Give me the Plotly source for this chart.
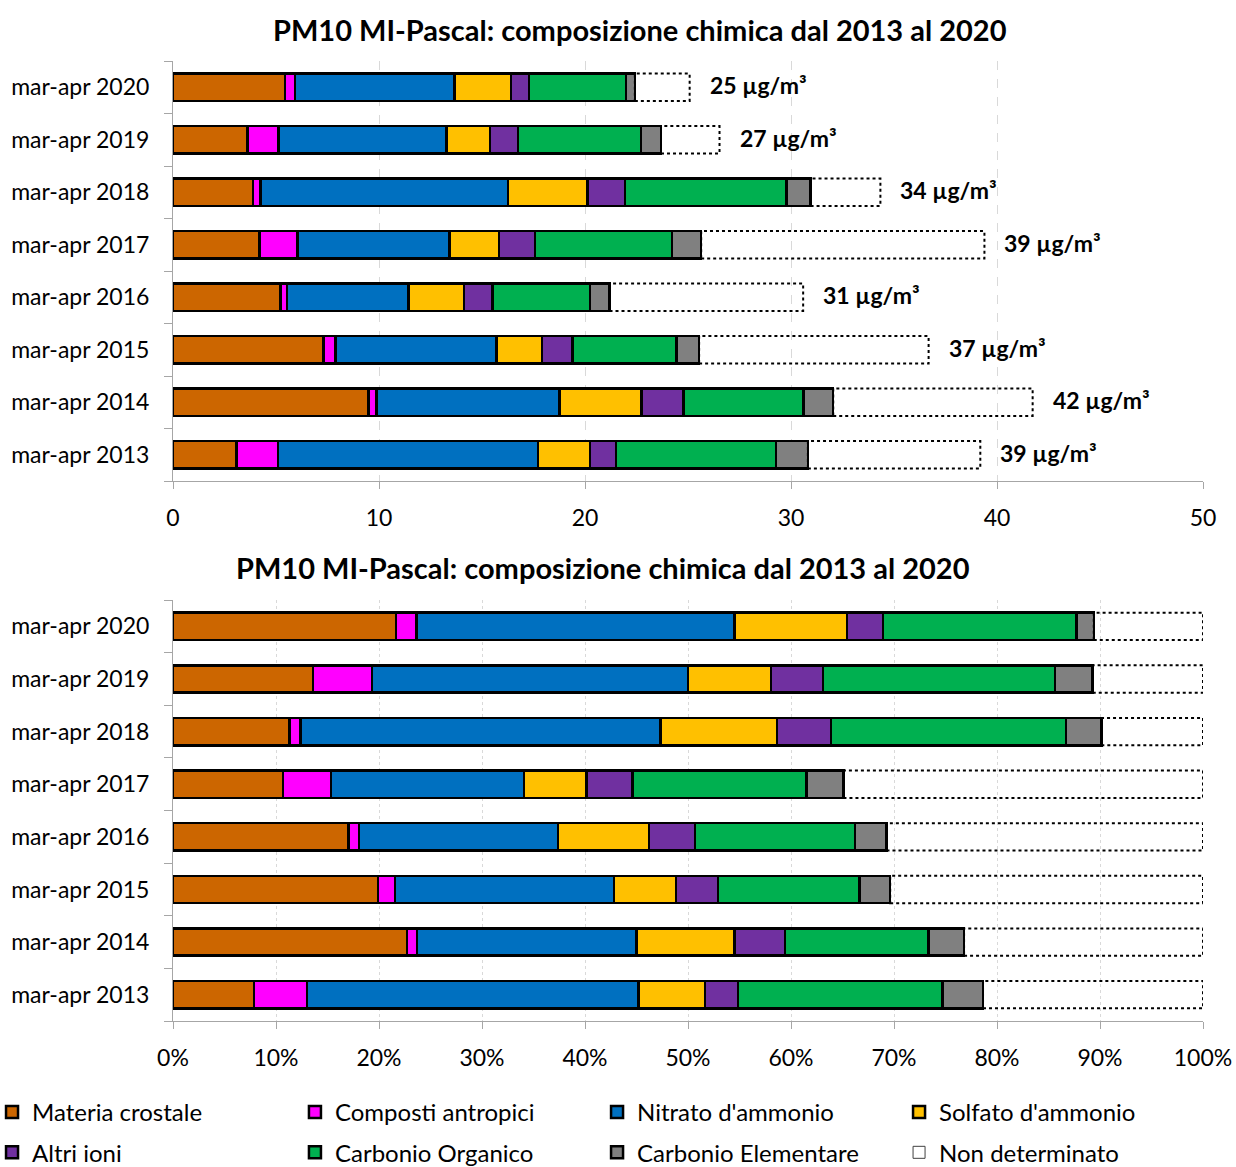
import plotly.graph_objects as go
from plotly.subplots import make_subplots

# periodi (dal basso verso l'alto) e composizione in µg/m³
periodi = ["mar-apr 2013", "mar-apr 2014", "mar-apr 2015", "mar-apr 2016",
           "mar-apr 2017", "mar-apr 2018", "mar-apr 2019", "mar-apr 2020"]
materia_crostale = [3.08, 9.49, 7.30, 5.21, 4.21, 3.89, 3.61, 5.43]
composti_antropici = [2.01, 0.40, 0.60, 0.32, 1.84, 0.36, 1.52, 0.50]
nitrato_ammonio = [12.62, 8.88, 7.81, 5.90, 7.38, 12.01, 8.14, 7.74]
solfato_ammonio = [2.54, 3.98, 2.20, 2.70, 2.39, 3.87, 2.13, 2.74]
altri_ioni = [1.25, 2.04, 1.49, 1.38, 1.76, 1.80, 1.34, 0.88]
carbonio_organico = [7.78, 5.82, 5.04, 4.74, 6.65, 7.85, 5.98, 4.71]
carbonio_elementare = [1.54, 1.44, 1.10, 0.94, 1.41, 1.17, 0.97, 0.42]
non_determinato = [8.37, 9.68, 11.14, 9.40, 13.75, 3.39, 2.84, 2.66]

componenti = [
    ("Materia crostale", materia_crostale, "#CC6600"),
    ("Composti antropici", composti_antropici, "#FF00FF"),
    ("Nitrato d'ammonio", nitrato_ammonio, "#0070C0"),
    ("Solfato d'ammonio", solfato_ammonio, "#FFC000"),
    ("Altri ioni", altri_ioni, "#7030A0"),
    ("Carbonio Organico", carbonio_organico, "#00B050"),
    ("Carbonio Elementare", carbonio_elementare, "#808080"),
]

n = len(periodi)
misurato = [sum(c[1][i] for c in componenti) for i in range(n)]
totale = [misurato[i] + non_determinato[i] for i in range(n)]

def perc(valori):
    return [valori[i] / totale[i] * 100 for i in range(n)]

FONT = "Lato"
titolo = "<b>PM10 MI-Pascal: composizione chimica dal 2013 al 2020</b>"
BARGAP = 0.48
h = (1 - BARGAP) / 2

# una legenda per colonna (4 colonne x 2 righe come nell'originale)
legende = ["legend", "legend2", "legend3", "legend4"]

fig = make_subplots(rows=2, cols=1)

for k, (nome, valori, colore) in enumerate(componenti):
    fig.add_trace(go.Bar(y=periodi, x=valori, orientation="h", name=nome,
                         marker=dict(color=colore, line=dict(color="black", width=2.5)),
                         legendgroup=nome, showlegend=False), row=1, col=1)
    fig.add_trace(go.Bar(y=periodi, x=perc(valori), orientation="h", name=nome,
                         marker=dict(color=colore, line=dict(color="black", width=2.5)),
                         legendgroup=nome, showlegend=True, legend=legende[k % 4]),
                  row=2, col=1)

# non determinato: barra trasparente + contorno puntinato
fig.add_trace(go.Bar(y=periodi, x=non_determinato, orientation="h", name="Non determinato",
                     marker=dict(color="rgba(0,0,0,0)", line=dict(width=0)),
                     showlegend=False), row=1, col=1)
fig.add_trace(go.Bar(y=periodi, x=perc(non_determinato), orientation="h", name="Non determinato",
                     marker=dict(color="rgba(0,0,0,0)", line=dict(width=0)),
                     showlegend=False), row=2, col=1)
fig.add_trace(go.Bar(y=[None], x=[None], orientation="h", name="Non determinato",
                     legendgroup="Non determinato", legend="legend4",
                     marker=dict(color="white", line=dict(color="#404040", width=1))),
              row=2, col=1)

misurato_perc = perc(misurato)
for i in range(n):
    fig.add_shape(type="rect", xref="x", yref="y", x0=misurato[i], x1=totale[i],
                  y0=i - h, y1=i + h, line=dict(color="black", width=2, dash="dot"))
    fig.add_shape(type="rect", xref="x2", yref="y2", x0=misurato_perc[i], x1=100,
                  y0=i - h, y1=i + h, line=dict(color="black", width=2, dash="dot"))
    fig.add_annotation(x=totale[i], y=periodi[i], xref="x", yref="y",
                       text="<b>%d µg/m³</b>" % round(totale[i]),
                       showarrow=False, xanchor="left", xshift=18, yshift=2,
                       font=dict(family=FONT, size=23, color="black"))

fig.add_annotation(x=0.4534, y=1.0333, xref="paper", yref="paper", text=titolo,
                   showarrow=False, yanchor="middle",
                   font=dict(family=FONT, size=29, color="black"))
fig.add_annotation(x=0.4175, y=0.4719, xref="paper", yref="paper", text=titolo,
                   showarrow=False, yanchor="middle",
                   font=dict(family=FONT, size=29, color="black"))

asse_y = dict(showline=True, linecolor="#A6A6A6", linewidth=1, ticks="outside",
              tickson="boundaries", ticklen=8, tickcolor="#A6A6A6", automargin=False,
              ticklabelstandoff=18,
              tickfont=dict(family=FONT, size=23, color="black"), showgrid=False)
fig.update_layout(yaxis=dict(domain=[0.5625, 1.0], **asse_y),
                  yaxis2=dict(domain=[0.0, 0.4385], **asse_y))

fig.update_xaxes(showline=True, linecolor="#A6A6A6", ticks="outside", ticklen=7,
                 tickcolor="#A6A6A6", zeroline=False, showgrid=True, automargin=False,
                 ticklabelstandoff=9,
                 tickfont=dict(family=FONT, size=23, color="black"))
fig.update_xaxes(range=[0, 50], dtick=10, gridcolor="#D9D9D9", griddash="dash", row=1, col=1)
fig.update_xaxes(range=[0, 100], dtick=10, ticksuffix="%", gridcolor="#D9D9D9",
                 griddash="dot", row=2, col=1)

leg_base = dict(orientation="v", xanchor="left", yanchor="top", y=-0.0719,
                traceorder="grouped", tracegroupgap=6, itemwidth=30,
                font=dict(family=FONT, size=24, color="black"))
leg_x = [-0.1757, 0.1184, 0.4117, 0.7049]
fig.update_layout(
    barmode="stack", bargap=BARGAP, width=1236, height=1167,
    margin=dict(l=173, r=33, t=61, b=146, autoexpand=False),
    plot_bgcolor="white", paper_bgcolor="white",
    font=dict(family=FONT, color="black"),
    **{nome_leg: dict(x=x, **leg_base) for nome_leg, x in zip(legende, leg_x)},
)

fig.write_html("out.html", config={"displayModeBar": False},
               post_script="document.body.style.margin='0';document.body.style.overflow='hidden';")
